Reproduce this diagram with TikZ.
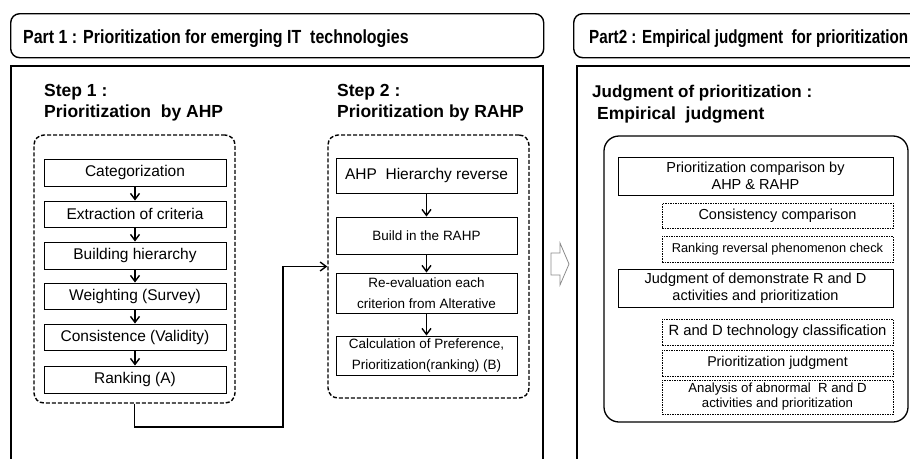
\documentclass[tikz,border=0pt]{standalone}
\usepackage{fontspec}
\usepackage{graphicx}
\setmainfont{Liberation Sans}
\usetikzlibrary{arrows.meta}
\newcommand{\fsz}[2]{\fontsize{#1}{#2}\selectfont}
\begin{document}
\begin{tikzpicture}[x=1pt,y=-1pt,
  hdr/.style={draw, line width=1.4pt, rounded corners=9pt, inner sep=0pt},
  hdrtext/.style={anchor=base west, inner sep=0pt, font=\bfseries\fsz{19}{22}},
  body/.style={draw, line width=1.3pt},
  steptitle/.style={anchor=base west, inner sep=0pt, font=\bfseries\fsz{17.5}{21}},
  cont/.style={draw, dash pattern=on 4pt off 2pt, line width=1.4pt, rounded corners=10pt, inner sep=0pt},
  sbox/.style={draw, line width=0.9pt, inner sep=0pt, align=center, font=\fsz{15.5}{18}},
  rbox/.style={draw, line width=0.9pt, inner sep=0pt, align=center, font=\fsz{13.5}{21}},
  pbox/.style={draw, line width=0.9pt, inner sep=0pt, align=center, font=\fsz{14.5}{17.5}},
  dbox/.style={draw, dash pattern=on 1.5pt off 1pt, line width=0.7pt, inner sep=0pt, align=center, font=\fsz{14.5}{17}},
  arr/.style={-{Straight Barb[length=6pt,width=9pt,line width=1.4pt]}, line width=1.4pt},
]
\useasboundingbox (0,0) rectangle (910,458);
\clip (0,0) rectangle (910,458);

% ---------------- Part 1 ----------------
\node[hdr, anchor=north west, minimum width=533, minimum height=44] (h1) at (10,13) {};
\node[hdrtext] (h1t) at (23,43) {\scalebox{0.84}[1]{Part 1 : Prioritization for emerging IT\ \ technologies}};
\draw[body] (11,66) rectangle (543,475);

% Step 1
\node[steptitle] (st1a) at (44,96) {Step 1 :};
\node[steptitle] (st1b) at (44,117) {Prioritization\ \ by AHP};
\node[cont, minimum width=201, minimum height=268] (s1) at (134.5,269) {};
\node[sbox, minimum width=182, minimum height=27] (a1) at (135,172.5) {Categorization};
\node[sbox, minimum width=182, minimum height=26] (a2) at (135,214) {Extraction of criteria};
\node[sbox, minimum width=182, minimum height=27] (a3) at (135,255.5) {Building hierarchy};
\node[sbox, minimum width=182, minimum height=26] (a4) at (135,296) {Weighting (Survey)};
\node[sbox, minimum width=182, minimum height=26] (a5) at (135,337) {Consistence (Validity)};
\node[sbox, minimum width=182, minimum height=27] (a6) at (135,379.5) {Ranking (A)};
\draw[arr] (a1) -- (a2);
\draw[arr] (a2) -- (a3);
\draw[arr] (a3) -- (a4);
\draw[arr] (a4) -- (a5);
\draw[arr] (a5) -- (a6);

% Step 2
\node[steptitle] (st2a) at (337,96) {Step 2 :};
\node[steptitle] (st2b) at (337,117) {Prioritization by RAHP};
\node[cont, minimum width=201, minimum height=263] (s2) at (428.5,266.5) {};
\node[sbox, minimum width=181, minimum height=35] (b1) at (426.5,175.5) {AHP\ \ Hierarchy reverse};
\node[rbox, minimum width=181, minimum height=37] (b2) at (426.5,235.5) {Build in the RAHP};
\node[rbox, minimum width=181, minimum height=40] (b3) at (426.5,293) {Re-evaluation each\\criterion from Alterative};
\node[rbox, minimum width=181, minimum height=39] (b4) at (426.5,355.5) {Calculation of Preference,\\Prioritization(ranking) (B)};
\draw[arr] (b1) -- (b2);
\draw[arr] (b2) -- (b3);
\draw[arr] (b3) -- (b4);

% connector Step 1 -> Step 2
\coordinate (k1) at (283,427);
\draw[arr] (s1.south) |- (k1) |- (s2.west);

% hollow arrow
\draw[line width=0.8pt, draw=black!45, fill=white]
  (551,253) -- (560,253) -- (560,243) -- (569,264) -- (560,285) -- (560,275) -- (551,275) -- cycle;

% ---------------- Part 2 ----------------
\node[hdr, anchor=north west, minimum width=380, minimum height=44] (h2) at (573,13) {};
\node[hdrtext] (h2t) at (589,43) {\scalebox{0.80}[1]{Part2 : Empirical judgment\ \ for prioritization}};
\draw[body] (577,66) rectangle (940,475);

\node[steptitle, font=\bfseries\fsz{17}{21}] (jt1) at (592,97) {Judgment of prioritization :};
\node[steptitle, font=\bfseries\fsz{17.5}{21}] (jt2) at (597,119) {Empirical\ \ judgment};

\node[draw, line width=1.3pt, rounded corners=15pt, minimum width=304, minimum height=286, inner sep=0pt] (p2) at (756,279) {};
\node[pbox, minimum width=275, minimum height=38] (c1) at (755.5,176) {Prioritization comparison by\\AHP \& RAHP};
\node[dbox, minimum width=231, minimum height=25] (d1) at (777.5,215.5) {Consistency comparison};
\node[dbox, minimum width=231, minimum height=26, font=\fsz{12.8}{15}] (d2) at (777.5,249) {Ranking reversal phenomenon check};
\node[pbox, minimum width=275, minimum height=38] (c2) at (755.5,288) {Judgment of demonstrate R and D\\activities and prioritization};
\node[dbox, minimum width=231, minimum height=26, font=\fsz{14.8}{17}] (d3) at (777.5,332) {R and D technology classification};
\node[dbox, minimum width=231, minimum height=26, font=\fsz{14.2}{17}] (d4) at (777.5,363) {Prioritization judgment};
\node[dbox, minimum width=231, minimum height=34, font=\fsz{13.2}{15}] (d5) at (777.5,397) {Analysis of abnormal\ \ R and D\\activities and prioritization};
\end{tikzpicture}
\end{document}
